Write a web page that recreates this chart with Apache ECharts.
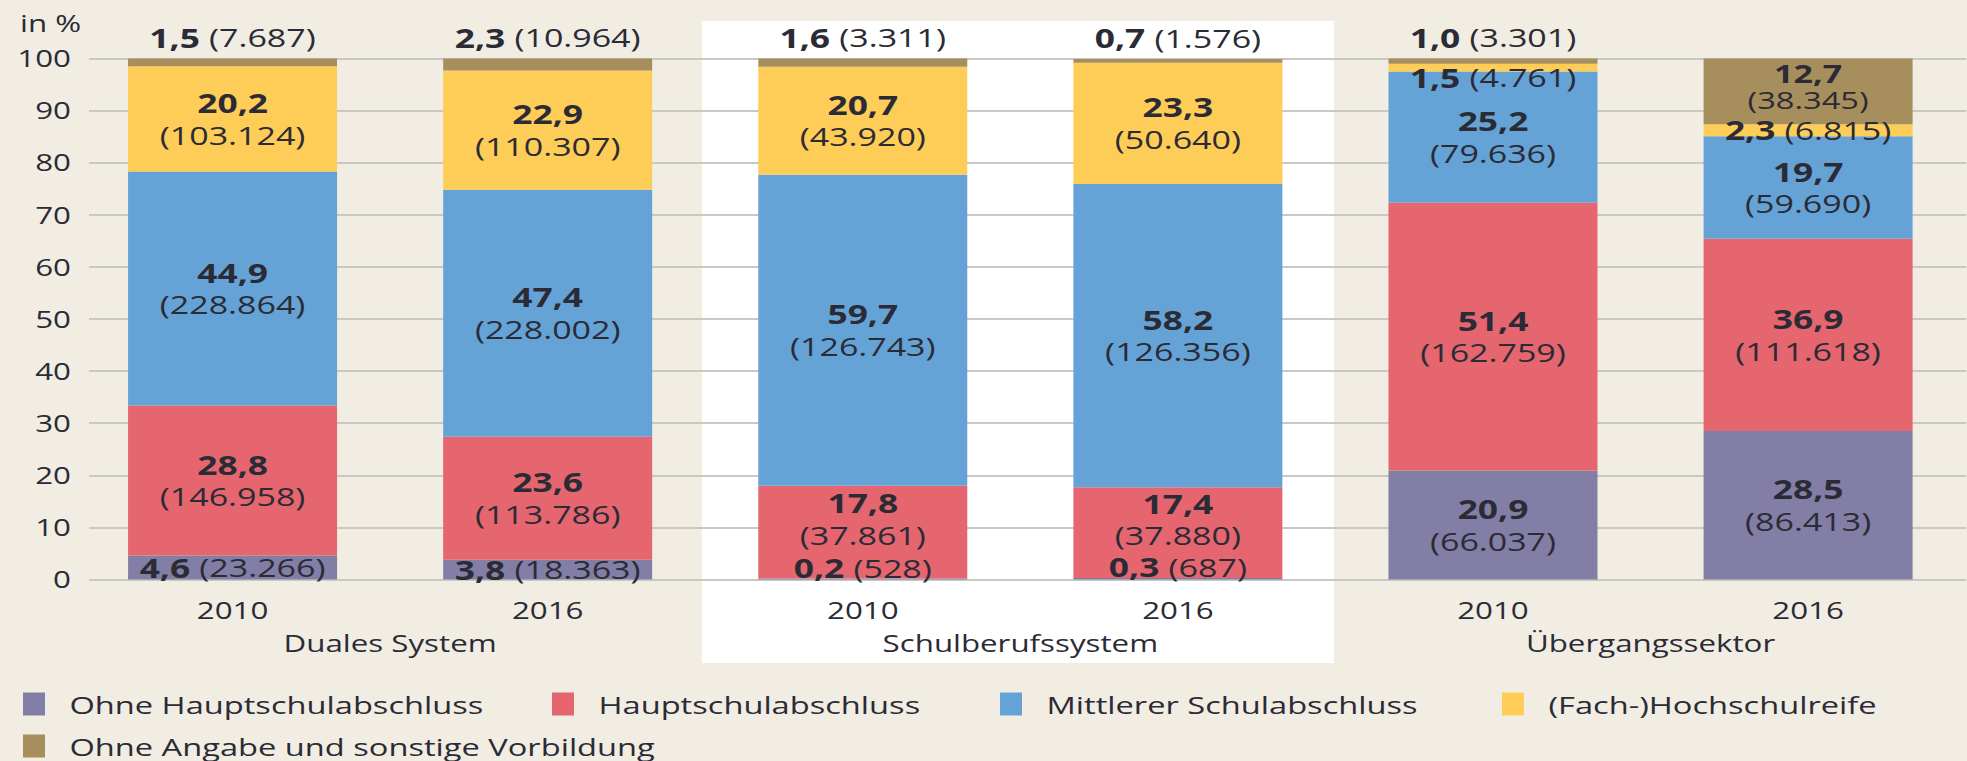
<!DOCTYPE html>
<html><head><meta charset="utf-8">
<script src="https://cdn.jsdelivr.net/npm/echarts@6/dist/echarts.min.js"></script>
<style>
html,body{margin:0;padding:0;background:#f1ede3;overflow:hidden;}
#wrap{width:1967px;height:761px;overflow:hidden;position:relative;}
#chart{height:761px;transform-origin:0 0;position:absolute;left:0;top:0;}
</style></head><body><div id="wrap"><div id="chart"></div></div>
<script>
// ---- data ----
const categories = ['2010', '2016', '2010', '2016', '2010', '2016'];
const groups = ['Duales System', 'Schulberufssystem', 'Übergangssektor'];
const seriesNames = ['Ohne Hauptschulabschluss', 'Hauptschulabschluss', 'Mittlerer Schulabschluss', '(Fach-)Hochschulreife', 'Ohne Angabe und sonstige Vorbildung'];
const ohneHauptschulPct = [4.6, 3.8, 0.2, 0.3, 20.9, 28.5];
const ohneHauptschulAbs = [23266, 18363, 528, 687, 66037, 86413];
const hauptschulPct = [28.8, 23.6, 17.8, 17.4, 51.4, 36.9];
const hauptschulAbs = [146958, 113786, 37861, 37880, 162759, 111618];
const mittlererPct = [44.9, 47.4, 59.7, 58.2, 25.2, 19.7];
const mittlererAbs = [228864, 228002, 126743, 126356, 79636, 59690];
const hochschulPct = [20.2, 22.9, 20.7, 23.3, 1.5, 2.3];
const hochschulAbs = [103124, 110307, 43920, 50640, 4761, 6815];
const ohneAngabePct = [1.5, 2.3, 1.6, 0.7, 1.0, 12.7];
const ohneAngabeAbs = [7687, 10964, 3311, 1576, 3301, 38345];
const yTicks = {min: 0, max: 100, interval: 10};

// ---- layout / style ----
const S = 1.36;                // horizontal stretch of the original graphic
const W = 1967 / S;
const FONT = '"Open Sans", "Noto Sans", sans-serif';
const TXT = '#2b2b36';
const colors = ['#837ea5', '#e5666f', '#65a3d7', '#fecd57', '#a68f5c'];
const pcts = [ohneHauptschulPct, hauptschulPct, mittlererPct, hochschulPct, ohneAngabePct];
const abss = [ohneHauptschulAbs, hauptschulAbs, mittlererAbs, hochschulAbs, ohneAngabeAbs];

const fmtPct = v => v.toFixed(1).replace('.', ',');
const fmtAbs = n => String(n).replace(/\B(?=(\d{3})+(?!\d))/g, '.');

const el = document.getElementById('chart');
el.style.width = W + 'px';
el.style.transform = 'scaleX(' + S + ')';
const chart = echarts.init(el, null, {renderer: 'svg'});

function makeRich(lh, fb, fr) {
  return {
    b: {fontFamily: FONT, fontWeight: 'bold', fontSize: fb, color: TXT, lineHeight: lh},
    r: {fontFamily: FONT, fontWeight: 500, fontSize: fr, color: TXT, lineHeight: lh}
  };
}
const rich = makeRich(32, 26, 25);
const richTight = makeRich(26, 25, 24);

function buildData(si) {
  return pcts[si].map((v, i) => {
    const small = v < 5;
    const txt = small
      ? '{b|' + fmtPct(v) + ' }{r|(' + fmtAbs(abss[si][i]) + ')}'
      : '{b|' + fmtPct(v) + '}\n{r|(' + fmtAbs(abss[si][i]) + ')}';
    let label = {show: true, position: 'inside', formatter: txt, rich: rich};
    if (!small && v < 15) label = {show: true, position: 'inside', formatter: txt, rich: richTight, offset: [0, -5]};
    if (si === 4 && small) label = {show: true, position: 'top', distance: 5, formatter: txt, rich: rich};
    if (si === 0 && v < 1) label = {show: true, position: 'top', distance: -5.5, formatter: txt, rich: rich};
    // lift the label above a tiny segment's label placed on top of it
    if (si === 1 && pcts[0][i] < 1) label.offset = [0, -13];
    // push down a tiny segment's label below the label sitting above the bar
    if (si === 3 && small && pcts[4][i] < 5) label.offset = [0, 10];
    return {value: v, label: label};
  });
}

const series = seriesNames.map((n, si) => ({
  name: n, type: 'bar', stack: 'total', xAxisIndex: 1, yAxisIndex: 1,
  barWidth: 209 / S, itemStyle: {color: colors[si]},
  emphasis: {disabled: true},
  data: buildData(si)
}));

const legendLefts = [23, 552, 1000, 1502, 23];
const legendTops = [692, 692, 692, 692, 734];
const legends = seriesNames.map((n, i) => ({
  data: [n], left: legendLefts[i] / S, top: legendTops[i], orient: 'horizontal',
  itemWidth: 22 / S, itemHeight: 23, icon: 'rect', padding: 0, itemGap: 0,
  selectedMode: false,
  textStyle: {fontFamily: FONT, fontWeight: 500, fontSize: 24, color: TXT, padding: [0, 0, 0, 13]}
}));

const axisFont = {fontFamily: FONT, fontWeight: 500, fontSize: 23, color: TXT};

const option = {
  backgroundColor: '#f1ede3',
  animation: false,
  textStyle: {fontFamily: FONT},
  graphic: [
    {type: 'rect', z: -1, silent: true, shape: {x: 702 / S, y: 21, width: 632 / S, height: 642}, style: {fill: '#ffffff'}},
    {type: 'text', silent: true, style: {x: 20 / S, y: 23, text: 'in %', fontFamily: FONT, fontWeight: 500, fontSize: 23, fill: TXT, verticalAlign: 'middle'}}
  ],
  grid: [
    {left: 89 / S, right: 0, top: 58.5, height: 521, containLabel: false},
    {left: 75 / S, right: 0.9 / S, top: 58.5, height: 521, containLabel: false}
  ],
  legend: legends,
  xAxis: [
    {gridIndex: 0, type: 'value', show: false, min: 0, max: 1},
    {gridIndex: 1, type: 'category', data: categories, axisLine: {show: false}, axisTick: {show: false},
      axisLabel: Object.assign({margin: 19}, axisFont)},
    {gridIndex: 1, type: 'category', data: groups, position: 'bottom', offset: 33, axisLine: {show: false}, axisTick: {show: false},
      axisLabel: Object.assign({margin: 19}, axisFont)}
  ],
  yAxis: [
    {gridIndex: 0, type: 'value', min: yTicks.min, max: yTicks.max, interval: yTicks.interval,
      axisLine: {show: false}, axisTick: {show: false},
      splitLine: {show: true, lineStyle: {color: '#cac8c3', width: 2}},
      axisLabel: Object.assign({margin: (89 - 71) / S}, axisFont)},
    {gridIndex: 1, type: 'value', min: yTicks.min, max: yTicks.max, show: false, splitLine: {show: false}}
  ],
  series: series
};
chart.setOption(option);
</script>
</body></html>
